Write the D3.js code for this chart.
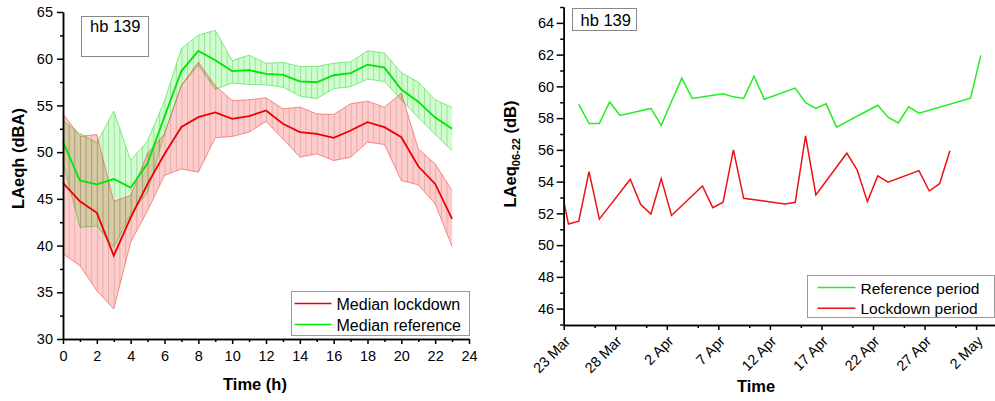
<!DOCTYPE html>
<html>
<head>
<meta charset="utf-8">
<script src="https://cdn.jsdelivr.net/npm/d3@7/dist/d3.min.js"></script>
<style>
  body { margin: 0; background: #fff; }
  svg text { font-family: "Liberation Sans", Arial, sans-serif; fill: #000; }
</style>
</head>
<body>
<div id="chart"></div>
<script>
// ---- left panel: hourly values (dBA) ----
const hours = [0, 1, 2, 3, 4, 5, 6, 7, 8, 9, 10, 11, 12, 13, 14, 15, 16, 17, 18, 19, 20, 21, 22, 23];
const lockMedian = [46.7, 44.74, 43.5, 38.93, 43.0, 46.6, 49.8, 52.7, 53.74, 54.25, 53.57, 53.85, 54.46, 53.04, 52.14, 51.96, 51.54, 52.32, 53.21, 52.67, 51.6, 48.49, 46.6, 42.86];
const lockLow = [39.1, 37.85, 35.17, 33.21, 40.35, 43.75, 47.5, 48.2, 47.86, 51.54, 51.68, 52.14, 53.28, 51.43, 49.46, 49.82, 49.1, 49.46, 51.07, 50.82, 46.96, 46.5, 44.46, 39.89];
const lockHigh = [54.1, 51.68, 51.89, 44.74, 45.36, 49.89, 51.96, 57.14, 59.64, 57.1, 55.53, 55.6, 55.82, 54.64, 54.81, 54.1, 54.03, 55.18, 55.46, 54.81, 56.32, 50.36, 48.75, 45.89];
const refMedian = [51.1, 46.96, 46.55, 47.12, 46.2, 48.8, 53.8, 58.68, 60.84, 59.84, 58.68, 58.77, 58.38, 58.27, 57.57, 57.48, 58.23, 58.46, 59.36, 59.04, 56.7, 55.4, 53.7, 52.5];
const refLow = [48.92, 41.96, 42.1, 39.82, 43.39, 45.71, 52.0, 57.14, 59.31, 56.72, 57.4, 57.25, 57.2, 56.95, 56.0, 55.72, 56.8, 57.0, 57.82, 57.55, 55.6, 53.7, 51.9, 50.15];
const refHigh = [53.35, 52.0, 51.0, 54.4, 49.13, 51.2, 55.5, 61.08, 62.52, 63.05, 59.8, 60.38, 59.5, 59.6, 59.17, 59.17, 59.52, 59.66, 60.84, 60.62, 58.5, 57.5, 55.6, 54.78];
const hourTicks = [0, 2, 4, 6, 8, 10, 12, 14, 16, 18, 20, 22, 24];
const hourMinor = [1, 3, 5, 7, 9, 11, 13, 15, 17, 19, 21, 23];
const levelTicks = [30, 35, 40, 45, 50, 55, 60, 65];
const levelMinor = [32.5, 37.5, 42.5, 47.5, 52.5, 57.5, 62.5];

// ---- right panel: daily LAeq 06-22 (dB) ----
const refDates = ['2020-03-24', '2020-03-25', '2020-03-26', '2020-03-27', '2020-03-28', '2020-03-31', '2020-04-01', '2020-04-02', '2020-04-03', '2020-04-04',
  '2020-04-07', '2020-04-08', '2020-04-09', '2020-04-10', '2020-04-11', '2020-04-14', '2020-04-15', '2020-04-16', '2020-04-17', '2020-04-18',
  '2020-04-22', '2020-04-23', '2020-04-24', '2020-04-25', '2020-04-26', '2020-05-01', '2020-05-02'];
const refValues = [58.86, 57.66, 57.66, 59.02, 58.17, 58.61, 57.55, 59.05, 60.52, 59.24,
  59.53, 59.34, 59.24, 60.64, 59.19, 59.89, 58.98, 58.61, 58.9, 57.43,
  58.81, 58.06, 57.7, 58.71, 58.31, 59.26, 61.95];
const lockDates = ['2020-03-22', '2020-03-23', '2020-03-24', '2020-03-25', '2020-03-26', '2020-03-29', '2020-03-30', '2020-03-31', '2020-04-01', '2020-04-02',
  '2020-04-05', '2020-04-06', '2020-04-07', '2020-04-08', '2020-04-09', '2020-04-13', '2020-04-14', '2020-04-15', '2020-04-16',
  '2020-04-19', '2020-04-20', '2020-04-21', '2020-04-22', '2020-04-23', '2020-04-26', '2020-04-27', '2020-04-28', '2020-04-29'];
const lockValues = [54.5, 51.33, 51.51, 54.63, 51.64, 54.15, 52.57, 51.96, 54.19, 51.87,
  53.73, 52.36, 52.7, 56.0, 52.95, 52.59, 52.7, 56.88, 53.16,
  55.79, 54.74, 52.74, 54.36, 53.96, 54.69, 53.41, 53.87, 55.94];
const dateTicks = ['2020-03-23', '2020-03-28', '2020-04-02', '2020-04-07', '2020-04-12', '2020-04-17', '2020-04-22', '2020-04-27', '2020-05-02'];
const dateMinor = ['2020-03-26', '2020-03-31', '2020-04-05', '2020-04-10', '2020-04-15', '2020-04-20', '2020-04-25', '2020-04-30'];
const dbTicks = [46, 48, 50, 52, 54, 56, 58, 60, 62, 64];
const dbMinor = [45, 47, 49, 51, 53, 55, 57, 59, 61, 63, 65];

const parseDay = d3.timeParse('%Y-%m-%d');
const fmtDay = d3.timeFormat('%-d %b');
// daily values sit a bit before noon of their day
const atDay = s => d3.timeHour.offset(parseDay(s), 11);

const svg = d3.select('#chart').append('svg')
  .attr('width', 995)
  .attr('height', 401);
const defs = svg.append('defs');

// vertical hatch used inside the bands
function hatch(id, colour) {
  const p = defs.append('pattern')
    .attr('id', id)
    .attr('patternUnits', 'userSpaceOnUse')
    .attr('x', 63).attr('y', 0)
    .attr('width', 16.92 / 3).attr('height', 20);
  p.append('line')
    .attr('x1', 0.5).attr('x2', 0.5).attr('y1', 0).attr('y2', 20)
    .attr('stroke', colour).attr('stroke-width', 1);
}
hatch('hatchRef', 'rgba(110,140,110,0.35)');
hatch('hatchLock', 'rgba(150,110,110,0.3)');

function styleAxis(g) {
  g.select('.domain').attr('stroke', '#000').attr('stroke-width', 1.5);
  g.selectAll('.tick line').attr('stroke', '#000').attr('stroke-width', 1.5);
  g.selectAll('.tick text').style('font-size', '14.5px');
}

// =================== left chart ===================
const xL = d3.scaleLinear().domain([0, 24]).range([63, 469]);
const yL = d3.scaleLinear().domain([30, 65]).range([339, 12]);

const band = (lo, hi) => d3.area()
  .x((d, i) => xL(hours[i]))
  .y0((d, i) => yL(lo[i]))
  .y1((d, i) => yL(hi[i]));
const edge = vals => d3.line()
  .x((d, i) => xL(hours[i]))
  .y((d, i) => yL(vals[i]));

const bands = [
  { lo: refLow, hi: refHigh, fill: 'rgba(0,255,0,0.2)', hatch: 'url(#hatchRef)', edge: 'rgba(40,220,40,0.55)' },
  { lo: lockLow, hi: lockHigh, fill: 'rgba(255,0,0,0.2)', hatch: 'url(#hatchLock)', edge: 'rgba(240,60,60,0.55)' },
];
bands.forEach(b => {
  svg.append('path').datum(hours).attr('d', band(b.lo, b.hi)).attr('fill', b.fill);
  svg.append('path').datum(hours).attr('d', band(b.lo, b.hi)).attr('fill', b.hatch);
  [b.lo, b.hi].forEach(v => {
    svg.append('path').datum(hours).attr('d', edge(v))
      .attr('fill', 'none').attr('stroke', b.edge).attr('stroke-width', 1);
  });
});

svg.append('path').datum(hours).attr('d', edge(refMedian))
  .attr('fill', 'none').attr('stroke', '#00e600').attr('stroke-width', 1.8);
svg.append('path').datum(hours).attr('d', edge(lockMedian))
  .attr('fill', 'none').attr('stroke', '#ee0000').attr('stroke-width', 1.8);

// axes
svg.append('g').attr('transform', 'translate(0,339)')
  .call(d3.axisBottom(xL).tickValues(hourMinor).tickFormat('').tickSize(3).tickSizeOuter(0)).call(styleAxis);
svg.append('g').attr('transform', 'translate(0,339)')
  .call(d3.axisBottom(xL).tickValues(hourTicks).tickFormat(d3.format('d')).tickSize(5).tickPadding(7).tickSizeOuter(0)).call(styleAxis);
svg.append('g').attr('transform', 'translate(63,0)')
  .call(d3.axisLeft(yL).tickValues(levelMinor).tickFormat('').tickSize(3).tickSizeOuter(0)).call(styleAxis);
svg.append('g').attr('transform', 'translate(63,0)')
  .call(d3.axisLeft(yL).tickValues(levelTicks).tickFormat(d3.format('d')).tickSize(6).tickPadding(4).tickSizeOuter(0)).call(styleAxis);

svg.append('text')
  .attr('transform', 'translate(23.5,158.5) rotate(-90)')
  .attr('text-anchor', 'middle')
  .style('font-size', '16.5px').style('font-weight', 'bold')
  .text('LAeqh (dBA)');
svg.append('text')
  .attr('x', 255).attr('y', 390)
  .attr('text-anchor', 'middle')
  .style('font-size', '16.5px').style('font-weight', 'bold')
  .text('Time (h)');

// tag box
svg.append('rect').attr('x', 81.5).attr('y', 16.5).attr('width', 67).attr('height', 40)
  .attr('fill', '#fff').attr('stroke', '#888').attr('stroke-width', 1);
svg.append('text').attr('x', 90).attr('y', 32).style('font-size', '16.5px').text('hb 139');

// legend
const legL = svg.append('g').attr('transform', 'translate(291.5,291.5)');
legL.append('rect').attr('width', 178).attr('height', 44)
  .attr('fill', '#fff').attr('stroke', '#999').attr('stroke-width', 1);
[['Median lockdown', '#ee0000'], ['Median reference', '#00e600']].forEach((it, i) => {
  legL.append('line').attr('x1', 3).attr('x2', 40).attr('y1', 12 + i * 21).attr('y2', 12 + i * 21)
    .attr('stroke', it[1]).attr('stroke-width', 1.5);
  legL.append('text').attr('x', 45).attr('y', 18 + i * 21).style('font-size', '16px').text(it[0]);
});

// =================== right chart ===================
const xR = d3.scaleTime()
  .domain([parseDay('2020-03-23'), d3.timeHour.offset(parseDay('2020-05-03'), 20)])
  .range([563.7, 995]);
const yR = d3.scaleLinear().domain([45, 65]).range([324.5, 7]);

defs.append('clipPath').attr('id', 'clipR')
  .append('rect').attr('x', 563.7).attr('y', 0).attr('width', 432).attr('height', 330);

const dayLine = d3.line()
  .x(d => xR(atDay(d[0])))
  .y(d => yR(d[1]));
svg.append('path').datum(d3.zip(refDates, refValues)).attr('d', dayLine)
  .attr('clip-path', 'url(#clipR)')
  .attr('fill', 'none').attr('stroke', '#22ee22').attr('stroke-width', 1.5);
svg.append('path').datum(d3.zip(lockDates, lockValues)).attr('d', dayLine)
  .attr('clip-path', 'url(#clipR)')
  .attr('fill', 'none').attr('stroke', '#ee1111').attr('stroke-width', 1.5);

svg.append('g').attr('transform', 'translate(0,325)')
  .call(d3.axisBottom(xR).tickValues(dateMinor.map(parseDay)).tickFormat('').tickSize(3).tickSizeOuter(0)).call(styleAxis);
const xAxisR = svg.append('g').attr('transform', 'translate(0,325)')
  .call(d3.axisBottom(xR).tickValues(dateTicks.map(parseDay)).tickFormat(fmtDay).tickSize(5).tickSizeOuter(0)).call(styleAxis);
xAxisR.selectAll('.tick text')
  .attr('y', 0).attr('dy', 0)
  .attr('text-anchor', 'end')
  .attr('transform', 'translate(7,17) rotate(-45)');

svg.append('g').attr('transform', 'translate(563.7,0)')
  .call(d3.axisLeft(yR).tickValues(dbMinor).tickFormat('').tickSize(3.5).tickSizeOuter(0)).call(styleAxis);
svg.append('g').attr('transform', 'translate(563.7,0)')
  .call(d3.axisLeft(yR).tickValues(dbTicks).tickFormat(d3.format('d')).tickSize(7).tickPadding(2.5).tickSizeOuter(0)).call(styleAxis);

const yTitle = svg.append('text')
  .attr('transform', 'translate(516,154) rotate(-90)')
  .attr('text-anchor', 'middle')
  .style('font-size', '16.5px').style('font-weight', 'bold');
yTitle.append('tspan').text('LAeq');
yTitle.append('tspan').attr('dy', 4).style('font-size', '11px').text('06-22');
yTitle.append('tspan').attr('dy', -4).text(' (dB)');

svg.append('text')
  .attr('x', 756).attr('y', 392)
  .attr('text-anchor', 'middle')
  .style('font-size', '16.5px').style('font-weight', 'bold')
  .text('Time');

svg.append('rect').attr('x', 572.5).attr('y', 8.5).attr('width', 64).attr('height', 22)
  .attr('fill', '#fff').attr('stroke', '#888').attr('stroke-width', 1);
svg.append('text').attr('x', 580.5).attr('y', 26).style('font-size', '16.5px').text('hb 139');

const legR = svg.append('g').attr('transform', 'translate(807.5,275.5)');
legR.append('rect').attr('width', 187).attr('height', 42)
  .attr('fill', '#fff').attr('stroke', '#999').attr('stroke-width', 1);
[['Reference period', '#22ee22'], ['Lockdown period', '#ee1111']].forEach((it, i) => {
  legR.append('line').attr('x1', 10).attr('x2', 48).attr('y1', 12 + i * 20.7).attr('y2', 12 + i * 20.7)
    .attr('stroke', it[1]).attr('stroke-width', 1.5);
  legR.append('text').attr('x', 53).attr('y', 18 + i * 20.7).style('font-size', '15.5px').text(it[0]);
});
</script>
</body>
</html>
